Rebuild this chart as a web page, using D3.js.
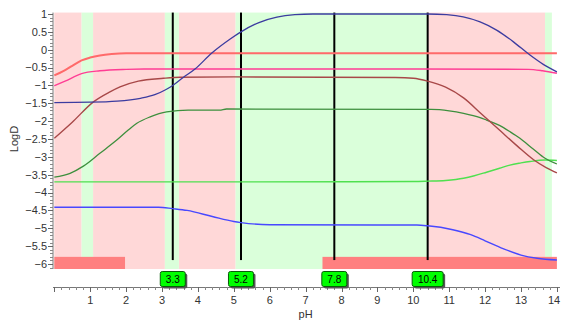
<!DOCTYPE html>
<html>
<head>
<meta charset="utf-8">
<script src="https://cdn.jsdelivr.net/npm/d3@7"></script>
<style>
  html, body { margin: 0; padding: 0; background: #fff; }
  svg { display: block; }
  text { font-family: "Liberation Sans", Arial, sans-serif; }
</style>
</head>
<body>
<svg id="chart" width="561" height="320"></svg>
<script>
// LogD profile over pH for each species, as [pH, logD] pairs
const redSeries = [[0,-0.72],[0.25,-0.6],[0.5,-0.45],[0.76,-0.3],[1.0,-0.22],[1.27,-0.16],[1.6,-0.12],[2.0,-0.1],[5,-0.1],[10,-0.1],[14,-0.1]];
const pinkSeries = [[0,-1.01],[0.3,-0.88],[0.76,-0.67],[1.27,-0.59],[2.0,-0.55],[2.5,-0.54],[8,-0.54],[13.2,-0.55],[13.6,-0.59],[14,-0.66]];
const brownSeries = [[0,-2.48],[0.5,-2.03],[1.09,-1.46],[1.55,-1.18],[1.83,-1.04],[2.34,-0.88],[3.04,-0.8],[3.5,-0.77],[5,-0.76],[9.5,-0.78],[10,-0.8],[10.4,-0.88],[10.9,-1.05],[11.4,-1.35],[11.9,-1.8],[12.4,-2.25],[12.9,-2.7],[13.35,-3.08],[13.7,-3.3],[14,-3.45]];
const navySeries = [[0,-1.48],[1,-1.47],[1.75,-1.44],[2.4,-1.36],[2.8,-1.26],[3.1,-1.12],[3.3,-1.0],[3.6,-0.77],[3.92,-0.54],[4.38,-0.1],[4.9,0.3],[5.2,0.5],[5.7,0.76],[6.2,0.91],[6.7,0.98],[7.2,1.0],[10.4,1.0],[10.93,0.98],[11.39,0.92],[11.86,0.78],[12.32,0.55],[12.79,0.22],[13.25,-0.15],[13.62,-0.41],[14,-0.62]];
const darkGreenSeries = [[0,-3.57],[0.44,-3.46],[0.81,-3.26],[1.27,-2.9],[1.74,-2.53],[2.06,-2.25],[2.3,-2.06],[2.67,-1.88],[3.13,-1.74],[3.73,-1.69],[4.6,-1.69],[4.8,-1.66],[10.5,-1.67],[11.0,-1.71],[11.4,-1.78],[11.86,-1.9],[12.04,-1.97],[12.4,-2.12],[12.7,-2.3],[12.97,-2.48],[13.34,-2.78],[13.67,-3.04],[14,-3.2]];
const lightGreenSeries = [[0,-3.7],[5,-3.7],[10,-3.69],[10.4,-3.68],[10.9,-3.66],[11.4,-3.6],[11.7,-3.53],[12.04,-3.43],[12.4,-3.32],[12.69,-3.23],[13.0,-3.17],[13.25,-3.13],[13.67,-3.09],[14,-3.1]];
const blueSeries = [[0,-4.41],[2.9,-4.41],[3.3,-4.45],[3.7,-4.5],[4.4,-4.67],[5.0,-4.81],[5.2,-4.84],[6.0,-4.9],[9,-4.91],[10.1,-4.91],[10.4,-4.93],[11.1,-5.04],[11.6,-5.18],[12.0,-5.35],[12.5,-5.57],[13.0,-5.75],[13.45,-5.84],[14,-5.89]];

// pH ranges shaded in the plot background
const pinkBands = [[0,0.76],[1.08,3.08],[3.47,5.05],[10.38,13.67]];
const greenBands = [[0.76,1.08],[3.08,3.47],[5.05,10.38],[13.67,13.86]];
// pH ranges marked along the bottom
const bottomBars = [[0,1.97],[7.47,14]];
// pKa markers
const pkaValues = [3.3, 5.2, 7.8, 10.4];

const xTicks = [1,2,3,4,5,6,7,8,9,10,11,12,13,14];
const yTicks = [1,0.5,0,-0.5,-1,-1.5,-2,-2.5,-3,-3.5,-4,-4.5,-5,-5.5,-6];

const svg = d3.select("#chart");
const x = d3.scaleLinear().domain([0,14]).range([54.3,556.9]);
const y = d3.scaleLinear().domain([-6,1]).range([264,14]);

const plotTop = y(1.04), plotBottom = y(-6.14);

// background bands
const pinkFill = "#ffd8d8", greenFill = "#daffda";
svg.append("g").selectAll("rect").data(pinkBands).join("rect")
  .attr("x", d => x(d[0])).attr("width", d => x(d[1]) - x(d[0]))
  .attr("y", plotTop).attr("height", plotBottom - plotTop)
  .attr("fill", pinkFill);
svg.append("g").selectAll("rect").data(greenBands).join("rect")
  .attr("x", d => x(d[0])).attr("width", d => x(d[1]) - x(d[0]))
  .attr("y", plotTop).attr("height", plotBottom - plotTop)
  .attr("fill", greenFill);

// bottom range bars
svg.append("g").selectAll("rect").data(bottomBars).join("rect")
  .attr("x", d => x(d[0])).attr("width", d => x(d[1]) - x(d[0]))
  .attr("y", y(-5.8)).attr("height", plotBottom - y(-5.8))
  .attr("fill", "#ff8080");

// pKa vertical lines
svg.append("g").selectAll("line").data(pkaValues).join("line")
  .attr("x1", d => x(d)).attr("x2", d => x(d))
  .attr("y1", plotTop).attr("y2", y(-5.89))
  .attr("stroke", "#000").attr("stroke-width", 2);

// curves
const line = d3.line().x(d => x(d[0])).y(d => y(d[1])).curve(d3.curveMonotoneX);
const seriesDefs = [
  {data: lightGreenSeries, color: "#4fe04f", w: 1.4},
  {data: blueSeries, color: "#4848ff", w: 1.4},
  {data: darkGreenSeries, color: "#3d8f3d", w: 1.3},
  {data: brownSeries, color: "#a84848", w: 1.4},
  {data: pinkSeries, color: "#ff3d94", w: 1.4},
  {data: redSeries, color: "#ff6a6a", w: 2},
  {data: navySeries, color: "#3c3ca0", w: 1.3}
];
svg.append("g").selectAll("path").data(seriesDefs).join("path")
  .attr("d", d => line(d.data))
  .attr("fill", "none")
  .attr("stroke", d => d.color)
  .attr("stroke-width", d => d.w);

// y axis
const yAxisX = 53;
const yg = svg.append("g");
yg.append("line").attr("x1", yAxisX).attr("x2", yAxisX)
  .attr("y1", plotTop).attr("y2", plotBottom).attr("stroke", "#777");
const yMinor = d3.range(-61, 11).map(v => v / 10);
yg.selectAll("line.minor").data(yMinor).join("line").attr("class","minor")
  .attr("x1", yAxisX - 3).attr("x2", yAxisX)
  .attr("y1", d => Math.round(y(d)) + 0.5).attr("y2", d => Math.round(y(d)) + 0.5)
  .attr("stroke", "#888");
yg.selectAll("line.major").data(yTicks).join("line").attr("class","major")
  .attr("x1", yAxisX - 5).attr("x2", yAxisX)
  .attr("y1", d => Math.round(y(d)) + 0.5).attr("y2", d => Math.round(y(d)) + 0.5)
  .attr("stroke", "#666");
yg.selectAll("text").data(yTicks).join("text")
  .attr("x", yAxisX - 6).attr("y", d => y(d)).attr("dy", "0.35em")
  .attr("text-anchor", "end").attr("font-size", 11).attr("fill", "#333")
  .text(d => d3.format("")(d));
svg.append("text")
  .attr("transform", `translate(18,${(y(1)+y(-6))/2}) rotate(-90)`)
  .attr("text-anchor", "middle").attr("font-size", 11).attr("fill", "#333")
  .text("LogD");

// x axis
const xAxisY = 287;
const xg = svg.append("g");
xg.append("line").attr("x1", 53).attr("x2", 560)
  .attr("y1", xAxisY + 0.5).attr("y2", xAxisY + 0.5).attr("stroke", "#777");
const xMinor = d3.range(0, 71).map(v => v / 5);
xg.selectAll("line.minor").data(xMinor).join("line").attr("class","minor")
  .attr("x1", d => Math.round(x(d)) + 0.5).attr("x2", d => Math.round(x(d)) + 0.5)
  .attr("y1", xAxisY).attr("y2", xAxisY + 3).attr("stroke", "#888");
xg.selectAll("line.major").data([0].concat(xTicks)).join("line").attr("class","major")
  .attr("x1", d => Math.round(x(d)) + 0.5).attr("x2", d => Math.round(x(d)) + 0.5)
  .attr("y1", xAxisY).attr("y2", xAxisY + 5).attr("stroke", "#666");
// the last label is kept inside the right edge
xg.selectAll("text").data(xTicks).join("text")
  .attr("x", d => Math.min(x(d), 554)).attr("y", 304)
  .attr("text-anchor", "middle").attr("font-size", 11).attr("fill", "#333")
  .text(d => d);
svg.append("text").attr("x", x(7)).attr("y", 318)
  .attr("text-anchor", "middle").attr("font-size", 11).attr("fill", "#333")
  .text("pH");

// pKa labels
const lab = svg.append("g").selectAll("g").data(pkaValues).join("g")
  .attr("transform", d => `translate(${x(d)},279)`);
const boxW = d => (String(d).length > 3 ? 31 : 25);
lab.append("rect")
  .attr("x", d => -boxW(d)/2 + 2).attr("y", -7.5 + 2)
  .attr("width", boxW).attr("height", 15).attr("rx", 2)
  .attr("fill", "#555");
lab.append("rect")
  .attr("x", d => -boxW(d)/2).attr("y", -7.5)
  .attr("width", boxW).attr("height", 15).attr("rx", 2)
  .attr("fill", "#00ff00").attr("stroke", "#0a5a0a").attr("stroke-width", 1);
lab.append("text").attr("y", 0).attr("dy", "0.35em")
  .attr("text-anchor", "middle").attr("font-size", 10).attr("fill", "#000")
  .text(d => d);
</script>
</body>
</html>
